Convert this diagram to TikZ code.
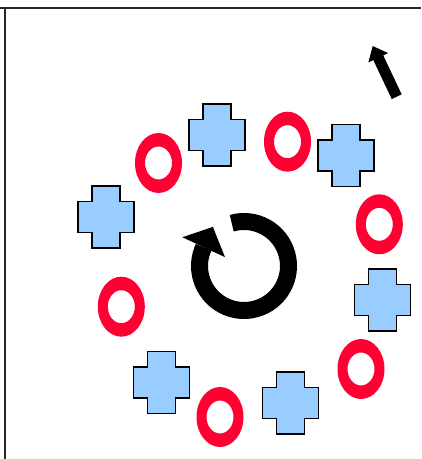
\documentclass[tikz,border=0pt]{standalone}
\usetikzlibrary{arrows.meta}
\definecolor{ringred}{HTML}{FF0033}
\definecolor{crossblue}{HTML}{99CCFF}

\begin{document}
\begin{tikzpicture}[x=0.03cm, y=0.03cm,
    frame/.style={draw=black!85, line width=0.055cm},
    bluecross/.pic={\draw[fill=crossblue, line width=0.045cm, line join=miter]
        (-14,31) -- (14,31) -- (14,15.5) -- (28,15.5) -- (28,-15.5) -- (14,-15.5)
        -- (14,-31) -- (-14,-31) -- (-14,-15.5) -- (-28,-15.5) -- (-28,15.5) -- (-14,15.5) -- cycle;},
    redring/.pic={\fill[ringred, even odd rule] (0,0) ellipse[x radius=23.5, y radius=30]
        (0,0) ellipse[x radius=13.5, y radius=16.5];},
    turn/.style={line width=0.51cm},
    bigarrow/.style={line width=0.33cm, -{Triangle[length=0.39cm, width=0.63cm]}}
]
    \useasboundingbox (0,0) rectangle (421,459);

    % Frame
    \draw[frame] (0,451) -- (421,451);
    \draw[frame] (4.7,451) -- (4.7,0);

    % Crosses
    \pic at (217,324) {bluecross};
    \pic at (106,242) {bluecross};
    \pic at (346,303.5) {bluecross};
    \pic at (382.7,159) {bluecross};
    \pic at (161.5,76.5) {bluecross};
    \pic at (290.5,56) {bluecross};

    % Rings
    \pic at (158.5,296) {redring};
    \pic at (287.5,317.3) {redring};
    \pic at (379.3,234.7) {redring};
    \pic at (121.3,152.3) {redring};
    \pic at (361,90) {redring};
    \pic at (220,42) {redring};

    % Turning arrow
    \coordinate (ctr) at (244,193);
    \draw[turn] ([shift={(ctr)}]106:44.5) arc[start angle=106, end angle=-205, radius=44.5];
    \fill ([shift={(ctr)}]155:68) -- ([shift={(ctr)}]128.5:50) -- ([shift={(ctr)}]155:21) -- cycle;

    % Pointer
    \coordinate (tail) at (396.7,362.3);
    \coordinate (tip) at (372.7,413);
    \draw[bigarrow] (tail) -- (tip);
\end{tikzpicture}
\end{document}
